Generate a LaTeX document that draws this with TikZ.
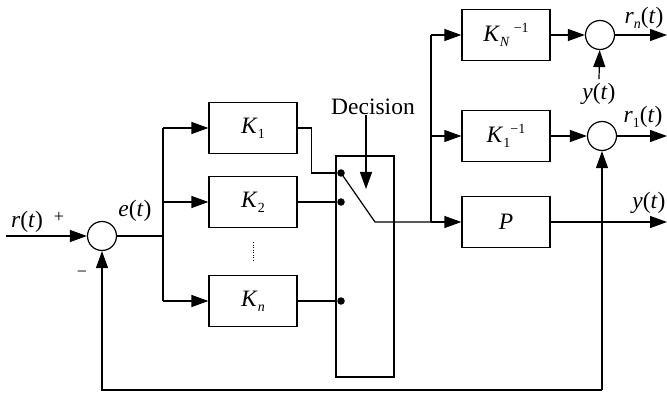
\documentclass[tikz,border=0pt]{standalone}
\usepackage{fontspec}
\setmainfont{Liberation Serif}
\usetikzlibrary{arrows.meta,calc}
\newcommand\vi[1]{\textit{#1}}
\newcommand\lowsub[1]{\raisebox{-5pt}{\fontsize{14}{16}\selectfont #1}}
\newcommand\highsup[1]{\raisebox{9pt}{\fontsize{14}{16}\selectfont #1}}
\begin{document}
\begin{tikzpicture}[x=1pt,y=-1pt,
 every node/.style={font=\fontsize{23.5}{27}\selectfont},
 blk/.style={draw,line width=1.2pt,minimum width=88pt,minimum height=51pt,inner sep=0pt},
 swbox/.style={draw,line width=1.2pt,minimum width=58pt,minimum height=221pt,inner sep=0pt},
 sumc/.style={draw,circle,line width=1.2pt,minimum size=29pt,inner sep=0pt},
 wire/.style={line width=1.2pt},
 arr/.style={wire,-{Triangle[length=17pt,width=12pt]}},
 contact/.style={circle,fill,inner sep=0pt,minimum size=7.5pt},
 lbl/.style={inner sep=0pt},
 sgn/.style={inner sep=0pt,font=\fontsize{18}{20}\selectfont},
 dots/.style={line width=1pt,dash pattern=on 1pt off 1.5pt}]
\useasboundingbox (0,0) rectangle (667,393);
% left part
\coordinate (rin) at (6,236);
\node[sumc] (s0) at (102,236) {};
\coordinate (b1) at (163,236);
\node[blk] (k1) at (253,128) {\vi{K}\lowsub{1}};
\node[blk] (k2) at (253,202) {\vi{K}\lowsub{2}};
\node[blk] (kn) at (253,301) {\vi{K}\lowsub{\vi{n}}};
\coordinate (dtop) at (253,242);
\coordinate (dbot) at (253,260);
% switch
\node[swbox] (sw) at (365,266.5) {};
\node[contact] (c1) at (341,173) {};
\node[contact] (c2) at (341,202) {};
\node[contact] (cn) at (341,301) {};
\coordinate (bl) at (375,222);
\coordinate (b2) at (431,222);
\node[lbl] (dec) at (373,107) {Decision};
\coordinate (dtip) at (366,189);
% right part
\node[blk] (kN) at (506,35) {\vi{K}\lowsub{\vi{N}}\,\highsup{−1}};
\node[blk] (k1i) at (506,136) {\vi{K}\lowsub{1}\highsup{−1}};
\node[blk] (p) at (506,222) {\vi{P}};
\node[sumc] (sN) at (600,35) {};
\node[sumc] (s1) at (602,136) {};
\coordinate (outN) at (667,35);
\coordinate (out1) at (667,136);
\coordinate (outp) at (667,222);
\coordinate (fr) at (602,390);
\coordinate (fl) at (102,390);
% labels
\node[lbl] (lr) at (27,222) {\vi{r}(\vi{t})};
\node[sgn] (lplus) at (59,217) {+};
\node[sgn] (lminus) at (82,274) {−};
\node[lbl] (le) at (135,211) {\vi{e}(\vi{t})};
\node[lbl] (lrn) at (644,18) {\vi{r}\lowsub{\vi{n}}(\vi{t})};
\node[lbl] (yN) at (599,94) {\vi{y}(\vi{t})};
\node[lbl] (lr1) at (643,117) {\vi{r}\lowsub{1}(\vi{t})};
\node[lbl] (ly) at (649,203) {\vi{y}(\vi{t})};
% wires
\draw[arr] (rin) -- (s0);
\draw[wire] (s0) -- (b1);
\draw[wire] (b1 |- k1) -- (b1 |- kn);
\draw[arr] (b1 |- k1) -- (k1);
\draw[arr] (b1 |- k2) -- (k2);
\draw[arr] (b1 |- kn) -- (kn);
\draw[dots] (dtop) -- (dbot);
\draw[wire] (k1.east) -- ++(14,0) |- (c1);
\draw[wire] (k2) -- (c2);
\draw[wire] (kn) -- (cn);
\draw[wire] (c1.center) -- (bl) -- (b2);
\draw[arr] (dec.south -| dtip) -- (dtip);
\draw[wire] (b2) -- (b2 |- kN);
\draw[arr] (b2) -- (p);
\draw[arr] (b2 |- kN) -- (kN);
\draw[arr] (b2 |- k1i) -- (k1i);
\draw[arr] (kN) -- (sN);
\draw[arr] (k1i) -- (s1);
\draw[arr] (sN) -- (outN);
\draw[arr] (s1) -- (out1);
\draw[arr] (p) -- (outp);
\draw[arr] ([yshift=4pt]yN.north) -- (sN);
\draw[arr] (fr) -- (s1);
\draw[arr] (fr) -- (fl) -- (s0);
\end{tikzpicture}
\end{document}
